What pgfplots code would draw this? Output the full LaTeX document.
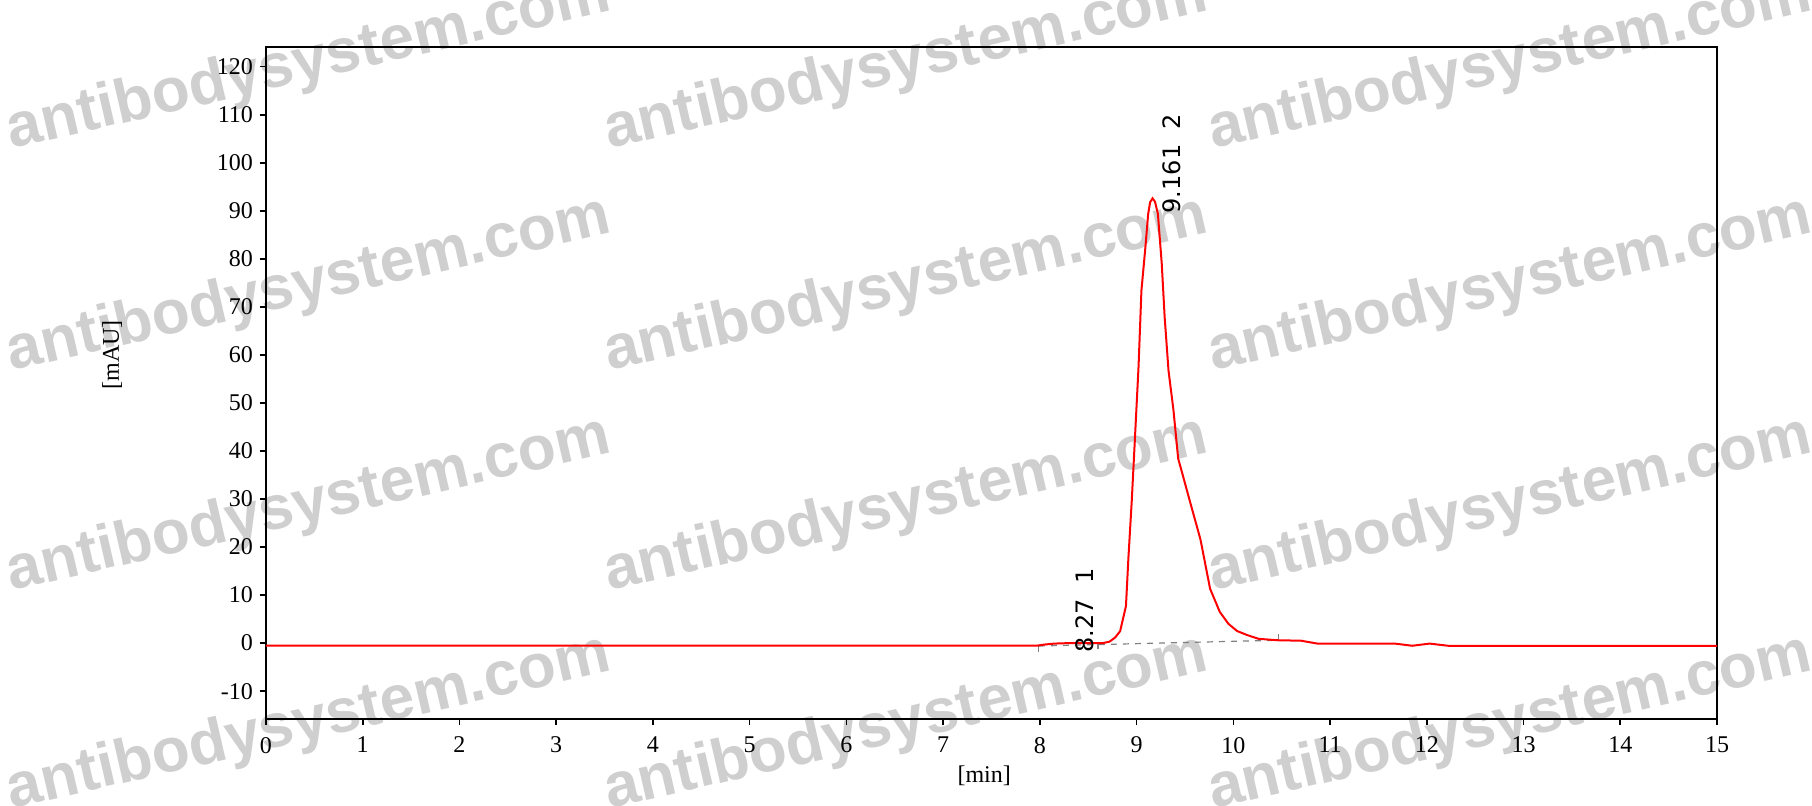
\documentclass[border=0pt]{standalone}
\usepackage{fontspec}
\setmainfont{Liberation Serif}
\newfontfamily\wmfont{Liberation Sans}
\newfontfamily\pkfont{DejaVu Sans}
\usepackage{pgfplots}
\pgfplotsset{compat=1.18}
\begin{document}
\begin{tikzpicture}
% watermark behind the chart
\begin{scope}
  \clip (-133pt,-43pt) rectangle (773pt,359.5pt);
  \foreach \x in {-127.25,171.5,473.5}{
    \foreach \y in {285,174,64,-45}{
      \node[anchor=base west, rotate=13, inner sep=0pt, text=black!19,
            font=\wmfont\bfseries\fontsize{31}{34}\selectfont] at (\x pt,\y pt) {antibodysystem.com};
    }
  }
\end{scope}
\begin{axis}[
  scale only axis, width=725.5pt, height=336pt,
  xmin=0, xmax=15, ymin=-15.8, ymax=124.1,
  xtick={0,...,15}, ytick={-10,0,10,...,120},
  tick align=outside, major tick length=3pt,
  xtick pos=bottom, ytick pos=left,
  axis line style={line width=1pt},
  tick style={black, line width=0.8pt},
  tick label style={font=\fontsize{12}{14}\selectfont},
  xticklabel style={yshift=-2.5pt},
  /pgf/number format/assume math mode=true,
  xlabel={[min]}, ylabel={[mAU]},
  label style={font=\fontsize{12}{14}\selectfont},
  xlabel style={at={(axis description cs:0.495,-0.084)}, anchor=center},
  ylabel style={at={(axis description cs:-0.106,0.542)}, anchor=center},
  clip=false,
]
% integration baseline
\addplot[gray, dashed, line width=0.6pt] coordinates {(7.99,-0.6) (10.47,0.6)};
\addplot[gray, line width=0.6pt] coordinates {(7.99,-0.6) (7.99,-1.9)};
\addplot[gray, line width=0.6pt] coordinates {(8.6,-0.2) (8.6,-1.2)};
\addplot[gray, line width=0.6pt] coordinates {(10.47,0.6) (10.47,1.8)};
% signal
\addplot[red, line width=1pt] coordinates {
  (0,-0.5) (7.98,-0.5) (8.05,-0.3) (8.15,-0.1) (8.3,0) (8.5,0) (8.65,0)
  (8.72,0.3) (8.78,1.2) (8.83,2.5) (8.89,7.7) (8.915,17.6) (8.95,29.6)
  (8.98,41.5) (9.02,57.5) (9.05,73.4) (9.09,82.2) (9.12,89.4) (9.14,91.8)
  (9.165,92.6) (9.19,91.9) (9.22,89.4) (9.26,79) (9.29,67.9) (9.33,56.7)
  (9.38,48.7) (9.43,38.4) (9.47,35.5) (9.55,29.6) (9.66,21.6) (9.76,11.3)
  (9.86,6.5) (9.95,4.0) (10.04,2.5) (10.14,1.7) (10.26,0.9) (10.45,0.6)
  (10.7,0.5) (10.87,-0.1) (11.67,-0.1) (11.85,-0.55) (12.03,-0.1)
  (12.22,-0.55) (15,-0.55)
};
% peak labels
\node[rotate=90, anchor=west, inner sep=0pt, font=\pkfont\fontsize{12}{14}\selectfont]
  at (axis cs:8.46,-2) {8.27\ \ 1};
\node[rotate=90, anchor=west, inner sep=0pt, font=\pkfont\fontsize{12}{14}\selectfont]
  at (axis cs:9.36,89.4) {9.161\ \ 2};
\end{axis}
\pgfresetboundingbox
\path[use as bounding box] (-133pt,-43pt) rectangle (773pt,359.5pt);
\end{tikzpicture}
\end{document}
